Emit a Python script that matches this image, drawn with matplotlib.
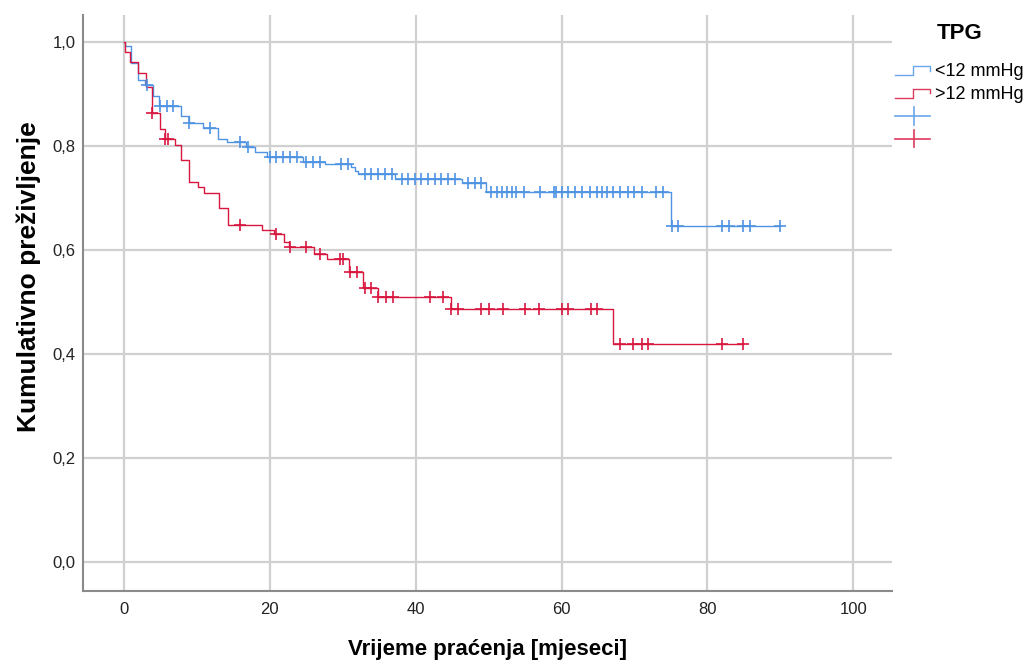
import numpy as np
import matplotlib
matplotlib.use("Agg")
import matplotlib.pyplot as plt
from matplotlib.lines import Line2D
from matplotlib.legend_handler import HandlerBase

plt.rcParams['font.family'] = ['Liberation Sans', 'DejaVu Sans']

# ---- data (months, cumulative survival) ----
groups = ["<12 mmHg", ">12 mmHg"]

low_event_t = [0.1, 1.0, 2.0, 2.9, 4.0, 4.8, 7.8, 8.9, 10.9, 12.9, 14.1, 16.8, 18.0,
               19.6, 24.6, 27.6, 31.2, 31.7, 32.1, 37.2, 46.3, 49.7, 75.0]
low_event_s = [0.992, 0.960, 0.927, 0.917, 0.897, 0.876, 0.857, 0.845, 0.834, 0.813,
               0.808, 0.799, 0.788, 0.778, 0.770, 0.766, 0.759, 0.751, 0.746, 0.736,
               0.728, 0.712, 0.646]
low_censor_t = [3.2, 4.9, 5.9, 6.8, 8.9, 11.8, 15.9, 17.0, 20.0, 20.9, 21.8, 22.8, 23.7,
                25.0, 25.9, 26.9, 29.8, 30.7, 33.0, 33.9, 34.9, 35.8, 36.7, 38.1, 39.0,
                39.9, 40.8, 41.7, 42.6, 43.5, 44.5, 45.4, 47.2, 48.1, 49.0, 50.3, 51.1,
                51.8, 52.5, 53.2, 53.8, 54.8, 57.0, 58.9, 59.3, 60.0, 60.9, 61.8, 62.8,
                63.9, 64.8, 65.5, 66.2, 67.1, 68.0, 69.1, 70.0, 71.0, 73.0, 73.9, 75.1,
                76.0, 82.0, 82.9, 84.9, 85.8, 89.9]

high_event_t = [0.2, 0.9, 2.0, 3.0, 3.9, 4.9, 5.6, 7.0, 7.9, 8.9, 10.1, 11.0, 13.1,
                14.3, 19.0, 20.6, 21.9, 22.6, 26.0, 27.8, 30.8, 32.8, 34.9, 44.9, 67.0]
high_event_s = [0.981, 0.961, 0.941, 0.913, 0.863, 0.832, 0.813, 0.802, 0.773, 0.731,
                0.722, 0.710, 0.680, 0.648, 0.638, 0.630, 0.616, 0.606, 0.593, 0.582,
                0.557, 0.526, 0.510, 0.487, 0.419]
high_censor_t = [3.9, 5.6, 6.1, 15.9, 20.9, 22.8, 25.0, 26.9, 29.6, 30.1, 31.0, 31.9,
                 33.0, 33.9, 34.9, 36.0, 36.9, 42.0, 43.8, 44.9, 45.8, 49.0, 50.0, 52.0,
                 55.0, 56.9, 60.0, 60.9, 64.0, 64.9, 68.0, 69.8, 71.0, 71.9, 82.0, 84.9]

x_ticks = [0, 20, 40, 60, 80, 100]
y_ticks = [0.0, 0.2, 0.4, 0.6, 0.8, 1.0]
x_label = "Vrijeme praćenja [mjeseci]"
y_label = "Kumulativno preživljenje"
legend_title = "TPG"

colors = ["#4f93e3", "#d8173f"]
legend_colors = ["#6aa6ea", "#dd3a5c"]

fig = plt.figure(figsize=(10.28, 6.62), dpi=100)
ax = fig.add_axes([83/1028, 1-591/662, (892-83)/1028, (591-15)/662])

series = [(low_event_t, low_event_s, low_censor_t), (high_event_t, high_event_s, high_censor_t)]
step_handles = []
cens_handles = []
for (et, es, ct), col, lab in zip(series, colors, groups):
    t = np.array([0.0] + list(et))
    s = np.array([1.0] + list(es))
    t_end = max(ct)
    tt = np.append(t, t_end)
    ss = np.append(s, s[-1])
    h, = ax.step(tt, ss, where='post', color=col, lw=1.0, label=lab, zorder=3)
    ct = np.array(ct)
    idx = np.searchsorted(t, ct, side='right') - 1
    cy = s[idx]
    hc, = ax.plot(ct, cy, ls='none', marker='+', ms=8, mew=1.2, color=col, zorder=4)
    step_handles.append(h)
    cens_handles.append(hc)

ax.set_xlim(-5.6, 105.3)
ax.set_ylim(-0.056, 1.052)
ax.set_xticks(x_ticks)
ax.set_yticks(y_ticks)
ax.set_yticklabels([f"{v:.1f}".replace('.', ',') for v in y_ticks])
ax.tick_params(length=0, labelsize=12, colors='#222222')
ax.tick_params(axis='y', pad=5.5)
ax.tick_params(axis='x', pad=8)
ax.grid(True, color='#d0d0d0', lw=1.6, zorder=0)
ax.set_axisbelow(True)
for sp in ['top', 'right']:
    ax.spines[sp].set_visible(False)
for sp in ['left', 'bottom']:
    ax.spines[sp].set_color('#8a8a8a')
    ax.spines[sp].set_linewidth(1.5)

ax.set_xlabel(x_label, fontsize=16, fontweight='bold', labelpad=16)
ax.set_ylabel(y_label, fontsize=19, fontweight='bold')
ax.yaxis.set_label_coords(-0.0525, 0.545)


class StepHandler(HandlerBase):
    def __init__(self, color):
        super().__init__()
        self.color = color

    def create_artists(self, legend, orig_handle, xdescent, ydescent, width, height,
                       fontsize, trans):
        x0, y0 = -xdescent, -ydescent
        xs = [x0, x0 + 0.5 * width, x0 + 0.5 * width, x0 + width, x0 + width]
        ys = [y0 + 0.1 * height, y0 + 0.1 * height, y0 + 0.8 * height,
              y0 + 0.8 * height, y0 + 0.45 * height]
        return [Line2D(xs, ys, color=self.color, lw=1.0, transform=trans)]


class CensorHandler(HandlerBase):
    def __init__(self, color):
        super().__init__()
        self.color = color

    def create_artists(self, legend, orig_handle, xdescent, ydescent, width, height,
                       fontsize, trans):
        x0, y0 = -xdescent, -ydescent
        ym = y0 + 0.4 * height
        hl = Line2D([x0, x0 + width], [ym, ym], color=self.color, lw=1.2, transform=trans)
        xc = x0 + 0.55 * width
        vl = Line2D([xc, xc], [y0 - 0.3 * height, y0 + 1.1 * height], color=self.color,
                    lw=1.2, transform=trans)
        return [hl, vl]


handles = step_handles + cens_handles
labels = groups + ["", ""]
hmap = {step_handles[0]: StepHandler(legend_colors[0]),
        step_handles[1]: StepHandler(legend_colors[1]),
        cens_handles[0]: CensorHandler(legend_colors[0]),
        cens_handles[1]: CensorHandler(legend_colors[1])}
leg = fig.legend(handles, labels, handler_map=hmap, loc='upper left',
                 bbox_to_anchor=(895/1028, 1-23/662), frameon=False,
                 fontsize=13, handlelength=1.95, handletextpad=0.25, labelspacing=0.3,
                 borderpad=0, borderaxespad=0, title=legend_title,
                 title_fontproperties={'weight': 'bold', 'size': 16})
leg._legend_box.sep = 14

fig.savefig("out.png", dpi=100)
